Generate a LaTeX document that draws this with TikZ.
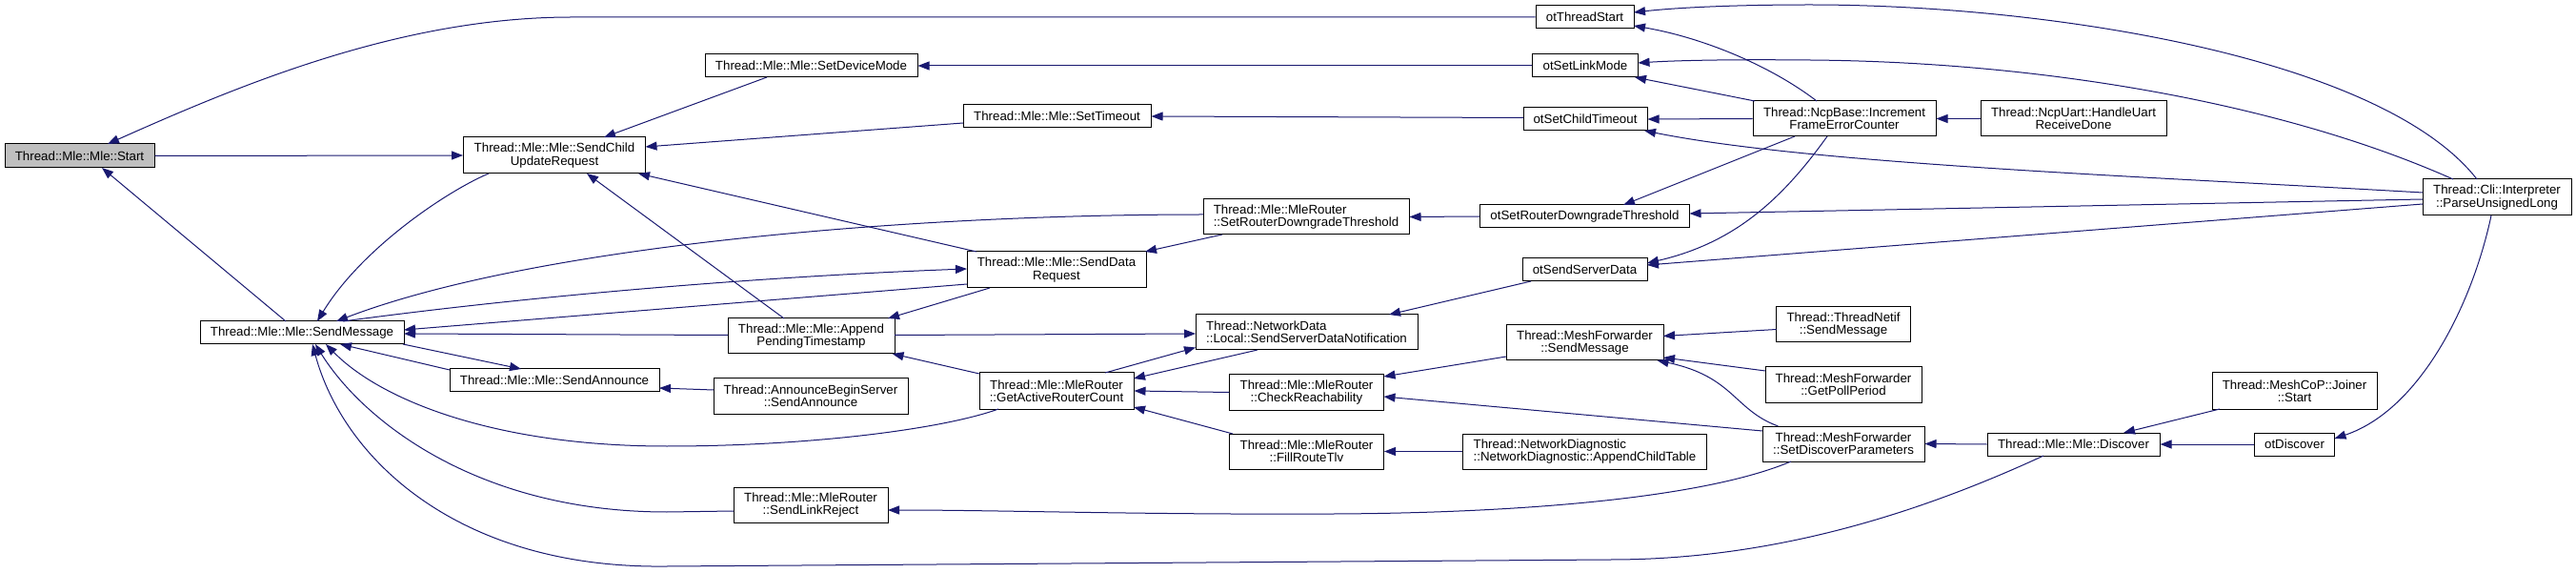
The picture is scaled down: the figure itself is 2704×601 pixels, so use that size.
\documentclass[tikz,border=0pt]{standalone}
\usepackage{fontspec}
\setmainfont{Liberation Sans}
\usetikzlibrary{arrows.meta,calc}
\definecolor{edgeblue}{RGB}{25,25,112}
\definecolor{startgray}{RGB}{191,191,191}
\begin{document}
\begin{tikzpicture}[x=1pt,y=-1pt,
  fn/.style={draw=black, line width=1pt, fill=white, inner sep=0pt,
    font=\fontsize{13.3}{13.3}\selectfont, align=center},
  fnl/.style={fn, align=left},
  call/.style={draw=edgeblue, line width=1pt, -{Triangle[length=12pt,width=9pt]}}]
\fill[white] (0,0) rectangle (2704,601);
\useasboundingbox (0,0) rectangle (2704,601);

% nodes
\node[fn, minimum width=157, minimum height=25, fill=startgray] (start) at (83.5,163.5) {Thread::Mle::Mle::Start};
\node[fn, minimum width=191, minimum height=38] (scur) at (582,163) {Thread::Mle::Mle::SendChild\\UpdateRequest};
\node[fn, minimum width=214, minimum height=24] (sendmsg) at (317,349) {Thread::Mle::Mle::SendMessage};
\node[fn, minimum width=220, minimum height=24] (sendann) at (582,399) {Thread::Mle::Mle::SendAnnounce};
\node[fn, minimum width=223, minimum height=24] (setdev) at (851.5,69) {Thread::Mle::Mle::SetDeviceMode};
\node[fn, minimum width=197, minimum height=24] (settimeout) at (1109.5,122) {Thread::Mle::Mle::SetTimeout};
\node[fnl, minimum width=216, minimum height=37] (mrsrdt) at (1371,227.5) {Thread::Mle::MleRouter\\::SetRouterDowngradeThreshold};
\node[fn, minimum width=188, minimum height=38] (sdr) at (1109,283) {Thread::Mle::Mle::SendData\\Request};
\node[fn, minimum width=175, minimum height=37] (apt) at (851.5,352.5) {Thread::Mle::Mle::Append\\PendingTimestamp};
\node[fn, minimum width=204, minimum height=37] (abs) at (851,415.5) {Thread::AnnounceBeginServer\\::SendAnnounce};
\node[fn, minimum width=162, minimum height=38] (garc) at (1109,410) {Thread::Mle::MleRouter\\::GetActiveRouterCount};
\node[fn, minimum width=162, minimum height=37] (slr) at (851,529.5) {Thread::Mle::MleRouter\\::SendLinkReject};
\node[fnl, minimum width=233, minimum height=37] (ssdn) at (1371.5,348.5) {Thread::NetworkData\\::Local::SendServerDataNotification};
\node[fn, minimum width=162, minimum height=37] (chk) at (1371.5,411.5) {Thread::Mle::MleRouter\\::CheckReachability};
\node[fn, minimum width=162, minimum height=37] (frt) at (1371.5,473.5) {Thread::Mle::MleRouter\\::FillRouteTlv};
\node[fn, minimum width=103, minimum height=24] (otts) at (1663.5,18) {otThreadStart};
\node[fn, minimum width=111, minimum height=24] (otslm) at (1664,69) {otSetLinkMode};
\node[fn, minimum width=130, minimum height=24] (otsct) at (1664,125) {otSetChildTimeout};
\node[fn, minimum width=192, minimum height=37] (ifec) at (1936,124.5) {Thread::NcpBase::Increment\\FrameErrorCounter};
\node[fn, minimum width=220, minimum height=24] (otsrdt) at (1663.5,227) {otSetRouterDowngradeThreshold};
\node[fn, minimum width=131, minimum height=24] (otssd) at (1663.5,283) {otSendServerData};
\node[fn, minimum width=195, minimum height=37] (uart) at (2176.5,124.5) {Thread::NcpUart::HandleUart\\ReceiveDone};
\node[fn, minimum width=156, minimum height=38] (pul) at (2621,207) {Thread::Cli::Interpreter\\::ParseUnsignedLong};
\node[fn, minimum width=165, minimum height=37] (mfsm) at (1663.5,359.5) {Thread::MeshForwarder\\::SendMessage};
\node[fn, minimum width=141, minimum height=37] (tnsm) at (1935,340.5) {Thread::ThreadNetif\\::SendMessage};
\node[fn, minimum width=164, minimum height=37] (gpp) at (1935,403.5) {Thread::MeshForwarder\\::GetPollPeriod};
\node[fn, minimum width=170, minimum height=37] (sdp) at (1935,465.5) {Thread::MeshForwarder\\::SetDiscoverParameters};
\node[fnl, minimum width=256, minimum height=37] (nd) at (1663.5,473.5) {Thread::NetworkDiagnostic\\::NetworkDiagnostic::AppendChildTable};
\node[fn, minimum width=181, minimum height=24] (disc) at (2176.5,466) {Thread::Mle::Mle::Discover};
\node[fn, minimum width=173, minimum height=38] (join) at (2408.5,410) {Thread::MeshCoP::Joiner\\::Start};
\node[fn, minimum width=84, minimum height=24] (otd) at (2408.5,466) {otDiscover};

% edges
\draw[call] (otts.west) -- (600,18) .. controls (420,18) and (250,90) .. ($(start)+(29.5,-12.5)$);
\draw[call] (start.east) -- (scur.west);
\draw[call] ($(sendmsg)+(-17,-12)$) -- ($(start)+(23.5,12.5)$);
\draw[call] ($(setdev)+(-46.5,12)$) -- ($(scur)+(52,-19)$);
\draw[call] ($(settimeout)+(-98.5,7)$) -- ($(scur)+(95.5,-9)$);
\draw[call] ($(sdr)+(-84,-19)$) -- ($(scur)+(88,19)$);
\draw[call] ($(apt)+(-28.5,-18.5)$) -- ($(scur)+(34,19)$);
\draw[call] ($(scur)+(-69,19)$) .. controls (470,200) and (380,260) .. ($(sendmsg)+(16,-12)$);
\draw[call] ($(mrsrdt)+(-108,-2.5)$) .. controls (950,225) and (560,258) .. ($(sendmsg)+(36,-12)$);
\draw[call] ($(sendmsg)+(43,-12)$) .. controls (560,310) and (800,290) .. ($(sdr)+(-94,-1)$);
\draw[call] ($(sdr)+(-94,15)$) -- ($(sendmsg)+(107,-3)$);
\draw[call] ($(apt)+(-87.5,-1)$) -- ($(sendmsg)+(107,1)$);
\draw[call] ($(sendmsg)+(106,12)$) -- ($(sendann)+(-35,-12)$);
\draw[call] ($(sendann)+(-110,-11)$) -- ($(sendmsg)+(40,12)$);
\draw[call] ($(abs)+(-102,-6.5)$) -- ($(sendann)+(110,8)$);
\draw[call] ($(garc)+(-61,19)$) .. controls (990,450) and (850,468) .. (700,468) .. controls (520,468) and (400,420) .. ($(sendmsg)+(25,12)$);
\draw[call] ($(slr)+(-81,6.5)$) -- (700,537) .. controls (500,537) and (380,440) .. ($(sendmsg)+(14,12)$);
\draw[call] ($(disc)+(-31.5,12)$) .. controls (2000,545) and (1850,587) .. (1690,587) -- (700,594) .. controls (480,597) and (360,480) .. ($(sendmsg)+(11,12)$);
\draw[call] ($(sdp)+(-55,18.5)$) .. controls (1790,522) and (1600,538) .. (1400,539) .. controls (1200,540) and (1050,535) .. ($(slr)+(81,5.5)$);
\draw[call] ($(mfsm)+(-82.5,14.5)$) -- ($(chk)+(81,-16.5)$);
\draw[call] ($(sdp)+(-85,-13.5)$) -- ($(chk)+(81,4.5)$);
\draw[call] (nd.west) -- (frt.east);
\draw[call] ($(tnsm)+(-70.5,5)$) -- ($(mfsm)+(82.5,-7)$);
\draw[call] ($(gpp)+(-82,-14.5)$) -- ($(mfsm)+(82.5,15.5)$);
\draw[call] ($(sdp)+(-68.5,-18.5)$) .. controls (1820,430) and (1820,395) .. ($(mfsm)+(76,18.5)$);
\draw[call] (disc.west) -- (sdp.east);
\draw[call] ($(join)+(-78.5,19)$) -- ($(disc)+(52.5,-12)$);
\draw[call] (otd.west) -- (disc.east);
\draw[call] ($(pul)+(-6,19)$) .. controls (2595,320) and (2540,430) .. ($(otd)+(42,-6)$);
\draw[call] ($(pul)+(-21,-19)$) .. controls (2500,60) and (2150,5) .. (1900,5) .. controls (1820,5) and (1760,8) .. ($(otts)+(51.5,-5)$);
\draw[call] ($(ifec)+(-29,-18.5)$) .. controls (1860,70) and (1790,40) .. ($(otts)+(51.5,9)$);
\draw[call] ($(pul)+(-46,-19)$) .. controls (2400,110) and (2150,65) .. (1900,63) .. controls (1800,62) and (1750,64) .. ($(otslm)+(55.5,-3)$);
\draw[call] ($(ifec)+(-94,-18.5)$) -- ($(otslm)+(52,12)$);
\draw[call] (ifec.west) -- (otsct.east);
\draw[call] ($(pul)+(-78,-5)$) .. controls (2250,185) and (1900,172) .. ($(otsct)+(62,12)$);
\draw[call] (uart.west) -- (ifec.east);
\draw[call] ($(ifec)+(-52,18.5)$) -- ($(otsrdt)+(40.5,-12)$);
\draw[call] ($(ifec)+(-18,18.5)$) .. controls (1870,210) and (1820,255) .. ($(otssd)+(65.5,-7)$);
\draw[call] ($(pul)+(-78,2)$) -- ($(otsrdt)+(110,-3)$);
\draw[call] ($(pul)+(-78,7)$) -- ($(otssd)+(65.5,-5)$);
\draw[call] (otsrdt.west) -- (mrsrdt.east);
\draw[call] ($(otssd)+(-56.5,12)$) -- ($(ssdn)+(86.5,-18.5)$);
\draw[call] (otslm.west) -- (setdev.east);
\draw[call] ($(otsct)+(-65,-1.5)$) -- (settimeout.east);
\draw[call] ($(mrsrdt)+(-88,18.5)$) -- ($(sdr)+(93,-19)$);
\draw[call] ($(sdr)+(-70,19)$) -- ($(apt)+(80.5,-18.5)$);
\draw[call] ($(garc)+(-81,-18)$) -- ($(apt)+(85,18.5)$);
\draw[call] ($(apt)+(87.5,-1)$) -- ($(ssdn)+(-116.5,1.5)$);
\draw[call] ($(garc)+(51,-19)$) -- ($(ssdn)+(-116.5,16)$);
\draw[call] ($(ssdn)+(-51.5,18.5)$) -- ($(garc)+(81,-13)$);
\draw[call] (chk.west) -- (garc.east);
\draw[call] ($(frt)+(-77.5,-18.5)$) -- ($(garc)+(81,17)$);
\end{tikzpicture}
\end{document}
